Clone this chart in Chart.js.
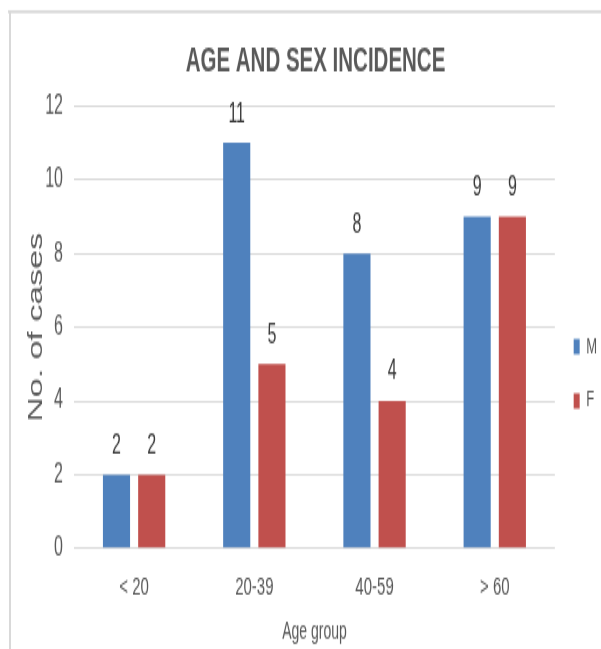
<!DOCTYPE html>
<html>
<head>
<meta charset="utf-8">
<title>Age and sex incidence</title>
<script src="https://cdn.jsdelivr.net/npm/chart.js@4/dist/chart.umd.min.js"></script>
<style>
  html, body { margin: 0; padding: 0; background: #ffffff; overflow: hidden; }
</style>
</head>
<body>
<!-- drawing buffer is 601x382, shown stretched to 601x649 (tall, narrow lettering) -->
<canvas id="chart" width="601" height="382" style="display:block;width:601px;height:649px;"></canvas>
<script>
// ---- data ----
const categories = ['< 20', '20-39', '40-59', '> 60'];
const maleCases = [2, 11, 8, 9];
const femaleCases = [2, 5, 4, 9];
const seriesNames = ['M', 'F'];
const yTickValues = [0, 2, 4, 6, 8, 10, 12];

// ---- styling ----
const FONT = "'Liberation Sans', Arial, Helvetica, sans-serif";
const TEXT_GREY = '#595959';
const GRID_GREY = '#d9d9d9';
const BLUE = '#4f81bd';
const RED = '#c0504d';

// white background plus the light frame along the top and left edge
const framePlugin = {
  id: 'frame',
  beforeDraw(chart) {
    const ctx = chart.ctx;
    ctx.save();
    ctx.fillStyle = '#ffffff';
    ctx.fillRect(0, 0, chart.width, chart.height);
    ctx.strokeStyle = GRID_GREY;
    ctx.lineWidth = 1.8;
    ctx.beginPath();
    ctx.moveTo(8, 6.8);
    ctx.lineTo(chart.width, 6.8);
    ctx.stroke();
    ctx.lineWidth = 2;
    ctx.beginPath();
    ctx.moveTo(10, 6);
    ctx.lineTo(10, chart.height);
    ctx.stroke();
    ctx.restore();
  }
};

// value printed above every bar, placed from the bar element itself
const valueLabelPlugin = {
  id: 'valueLabels',
  afterDatasetsDraw(chart) {
    const ctx = chart.ctx;
    ctx.save();
    ctx.font = '16px ' + FONT;
    ctx.fillStyle = '#3a3a3a';
    ctx.textAlign = 'center';
    ctx.textBaseline = 'alphabetic';
    chart.data.datasets.forEach((ds, di) => {
      const meta = chart.getDatasetMeta(di);
      meta.data.forEach((bar, i) => {
        ctx.fillText(String(ds.data[i]), bar.x, bar.y - 12.6);
      });
    });
    ctx.restore();
  }
};

new Chart(document.getElementById('chart'), {
  type: 'bar',
  data: {
    labels: categories,
    datasets: [
      { label: seriesNames[0], data: maleCases, backgroundColor: BLUE, borderWidth: 0,
        categoryPercentage: 0.586, barPercentage: 0.77 },
      { label: seriesNames[1], data: femaleCases, backgroundColor: RED, borderWidth: 0,
        categoryPercentage: 0.586, barPercentage: 0.77 }
    ]
  },
  options: {
    responsive: false,
    devicePixelRatio: 1,
    animation: false,
    layout: { padding: { left: 24, right: -6, top: 0, bottom: 0 } },
    plugins: {
      title: {
        display: true,
        text: 'AGE AND SEX INCIDENCE',
        color: TEXT_GREY,
        font: { family: FONT, size: 20.5, weight: 'bold', lineHeight: 1.2 },
        padding: { top: 24, bottom: 13.8 }
      },
      legend: {
        position: 'right',
        align: 'center',
        title: { display: true, text: '', font: { size: 10, lineHeight: 1 }, padding: { top: 48, bottom: 0 } },
        labels: {
          boxWidth: 6,
          boxHeight: 9,
          padding: 18.8,
          color: TEXT_GREY,
          font: { family: FONT, size: 13 }
        }
      },
      tooltip: { enabled: false }
    },
    scales: {
      x: {
        grid: { display: false, drawTicks: false },
        border: { display: false },
        ticks: { color: TEXT_GREY, font: { family: FONT, size: 15 }, padding: 14.5 },
        title: {
          display: true,
          text: 'Age group',
          color: TEXT_GREY,
          font: { family: FONT, size: 14, lineHeight: 1.2 },
          padding: { top: -6.1, bottom: 1.5 }
        }
      },
      y: {
        min: 0,
        max: 12,
        afterBuildTicks(scale) {
          scale.ticks = yTickValues.map(v => ({ value: v }));
        },
        grid: { color: GRID_GREY, lineWidth: 1, drawTicks: false },
        border: { display: false },
        ticks: { color: TEXT_GREY, font: { family: FONT, size: 16 }, padding: 11 },
        title: {
          display: true,
          text: 'No. of cases',
          color: TEXT_GREY,
          font: { family: FONT, size: 20, lineHeight: 1.2 },
          padding: { top: 0, bottom: -13.8 }
        }
      }
    }
  },
  plugins: [framePlugin, valueLabelPlugin]
});
</script>
</body>
</html>
